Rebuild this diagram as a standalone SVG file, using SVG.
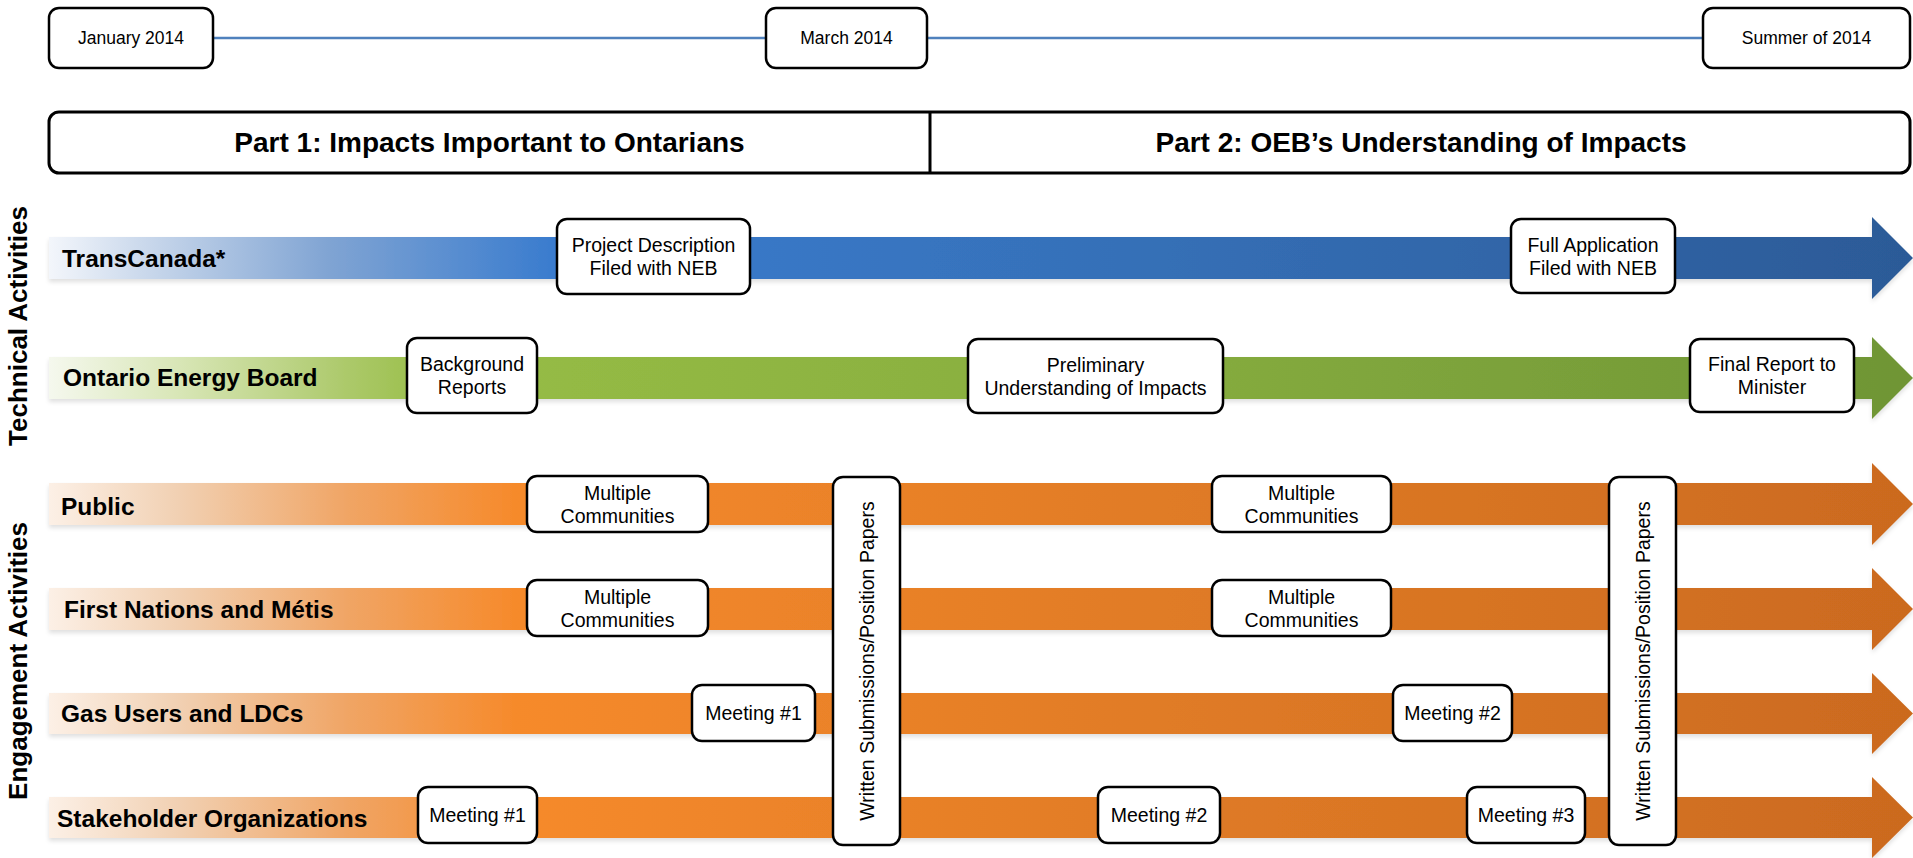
<svg xmlns="http://www.w3.org/2000/svg" width="1913" height="858" viewBox="0 0 1913 858">
<style>
text{font-family:"Liberation Sans",Arial,sans-serif;fill:#000}
.box{fill:#fff;stroke:#000;stroke-width:2.5}
.bt{font-size:19.5px;text-anchor:middle}
.lane{font-size:24.5px;font-weight:bold}
.grp{font-size:26px;font-weight:bold;text-anchor:middle}
.hdr{font-size:28px;font-weight:bold;text-anchor:middle}
.date{font-size:17.5px;text-anchor:middle}
.tl{stroke:#4f81bd;stroke-width:2.6;fill:none}
</style>
<defs>
<linearGradient id="gBlue" gradientUnits="userSpaceOnUse" x1="49" y1="0" x2="1913" y2="0">
<stop offset="0" stop-color="#f3f6fb"/>
<stop offset="0.05" stop-color="#cbd9ec"/>
<stop offset="0.15" stop-color="#80a4d3"/>
<stop offset="0.27" stop-color="#3a7cce"/>
<stop offset="0.6" stop-color="#356fb6"/>
<stop offset="1" stop-color="#2c5a97"/>
</linearGradient>
<linearGradient id="gGreen" gradientUnits="userSpaceOnUse" x1="49" y1="0" x2="1913" y2="0">
<stop offset="0" stop-color="#f5f8ee"/>
<stop offset="0.07" stop-color="#d8e6b6"/>
<stop offset="0.16" stop-color="#acc96a"/>
<stop offset="0.21" stop-color="#97bd45"/>
<stop offset="0.6" stop-color="#86ac3f"/>
<stop offset="1" stop-color="#6f9535"/>
</linearGradient>
<linearGradient id="gOrange" gradientUnits="userSpaceOnUse" x1="49" y1="0" x2="1913" y2="0">
<stop offset="0" stop-color="#fcf0e6"/>
<stop offset="0.07" stop-color="#f1d0b2"/>
<stop offset="0.16" stop-color="#f0a565"/>
<stop offset="0.25" stop-color="#f68a2b"/>
<stop offset="0.6" stop-color="#e07b26"/>
<stop offset="1" stop-color="#cb6a1f"/>
</linearGradient>
<filter id="shadow" x="-2%" y="-20%" width="104%" height="150%">
<feDropShadow dx="0" dy="3" stdDeviation="2" flood-color="#000" flood-opacity="0.12"/>
</filter>
</defs>

<!-- timeline -->
<g id="timeline-line">
<line class="tl" x1="213" y1="38" x2="766" y2="38"/>
<line class="tl" x1="927" y1="38" x2="1703" y2="38"/>
</g>
<g id="date-jan"><rect class="box" x="49" y="8" width="164" height="60" rx="10"/><text class="date" x="131" y="44">January 2014</text></g>
<g id="date-mar"><rect class="box" x="766" y="8" width="161" height="60" rx="10"/><text class="date" x="846.5" y="44">March 2014</text></g>
<g id="date-summer"><rect class="box" x="1703" y="8" width="207" height="60" rx="10"/><text class="date" x="1806.5" y="44">Summer of 2014</text></g>

<!-- header -->
<g id="header">
<rect x="49" y="112" width="1861" height="61" rx="10" fill="#fff" stroke="#000" stroke-width="3"/>
<line x1="930" y1="112" x2="930" y2="173" stroke="#000" stroke-width="3"/>
<text class="hdr" x="489.5" y="152">Part 1: Impacts Important to Ontarians</text>
<text class="hdr" x="1421" y="152">Part 2: OEB’s Understanding of Impacts</text>
</g>

<!-- group labels -->
<g id="label-technical"><text class="grp" transform="translate(27 326) rotate(-90)">Technical Activities</text></g>
<g id="label-engagement"><text class="grp" transform="translate(27 661) rotate(-90)">Engagement Activities</text></g>

<!-- lanes (arrows) -->
<g id="connectors" filter="url(#shadow)">
<path id="arrow-transcanada" d="M49 237 H1872 V217 L1913 258 L1872 299 V279 H49 Z" fill="url(#gBlue)"/>
<path id="arrow-oeb" d="M49 357 H1872 V337 L1913 378 L1872 419 V399 H49 Z" fill="url(#gGreen)"/>
<path id="arrow-public" d="M49 483 H1872 V463 L1913 504 L1872 545 V525 H49 Z" fill="url(#gOrange)"/>
<path id="arrow-firstnations" d="M49 588 H1872 V568 L1913 609 L1872 650 V630 H49 Z" fill="url(#gOrange)"/>
<path id="arrow-gas" d="M49 693 H1872 V673 L1913 713.5 L1872 754 V734 H49 Z" fill="url(#gOrange)"/>
<path id="arrow-stakeholder" d="M49 797 H1872 V777 L1913 817.5 L1872 858 V838 H49 Z" fill="url(#gOrange)"/>
</g>

<g id="lane-labels">
<text class="lane" x="62" y="267">TransCanada*</text>
<text class="lane" x="63" y="386">Ontario Energy Board</text>
<text class="lane" x="61" y="515">Public</text>
<text class="lane" x="64" y="618">First Nations and Métis</text>
<text class="lane" x="61" y="722">Gas Users and LDCs</text>
<text class="lane" x="57" y="827">Stakeholder Organizations</text>
</g>

<!-- milestone nodes -->
<g id="node-project-description"><rect class="box" x="557" y="219" width="193" height="75" rx="10"/><text class="bt" x="653.5" y="252">Project Description</text><text class="bt" x="653.5" y="275">Filed with NEB</text></g>
<g id="node-full-application"><rect class="box" x="1511" y="219" width="164" height="74" rx="10"/><text class="bt" x="1593" y="251.5">Full Application</text><text class="bt" x="1593" y="274.5">Filed with NEB</text></g>
<g id="node-background"><rect class="box" x="407" y="338" width="130" height="75" rx="10"/><text class="bt" x="472" y="371">Background</text><text class="bt" x="472" y="394">Reports</text></g>
<g id="node-preliminary"><rect class="box" x="968" y="339" width="255" height="74" rx="10"/><text class="bt" x="1095.5" y="371.5">Preliminary</text><text class="bt" x="1095.5" y="394.5">Understanding of Impacts</text></g>
<g id="node-final-report"><rect class="box" x="1690" y="339" width="164" height="73" rx="10"/><text class="bt" x="1772" y="371">Final Report to</text><text class="bt" x="1772" y="394">Minister</text></g>

<g id="node-public-mc1"><rect class="box" x="527" y="476" width="181" height="56" rx="10"/><text class="bt" x="617.5" y="499.5">Multiple</text><text class="bt" x="617.5" y="522.5">Communities</text></g>
<g id="node-public-mc2"><rect class="box" x="1212" y="476" width="179" height="56" rx="10"/><text class="bt" x="1301.5" y="499.5">Multiple</text><text class="bt" x="1301.5" y="522.5">Communities</text></g>
<g id="node-fn-mc1"><rect class="box" x="527" y="580" width="181" height="56" rx="10"/><text class="bt" x="617.5" y="603.5">Multiple</text><text class="bt" x="617.5" y="626.5">Communities</text></g>
<g id="node-fn-mc2"><rect class="box" x="1212" y="580" width="179" height="56" rx="10"/><text class="bt" x="1301.5" y="603.5">Multiple</text><text class="bt" x="1301.5" y="626.5">Communities</text></g>

<g id="node-gas-m1"><rect class="box" x="692" y="685" width="123" height="56" rx="10"/><text class="bt" x="753.5" y="720">Meeting #1</text></g>
<g id="node-gas-m2"><rect class="box" x="1393" y="685" width="119" height="56" rx="10"/><text class="bt" x="1452.5" y="720">Meeting #2</text></g>
<g id="node-sh-m1"><rect class="box" x="418" y="787" width="119" height="56" rx="10"/><text class="bt" x="477.5" y="822">Meeting #1</text></g>
<g id="node-sh-m2"><rect class="box" x="1098" y="787" width="122" height="56" rx="10"/><text class="bt" x="1159" y="822">Meeting #2</text></g>
<g id="node-sh-m3"><rect class="box" x="1467" y="787" width="118" height="56" rx="10"/><text class="bt" x="1526" y="822">Meeting #3</text></g>

<g id="node-written-1"><rect class="box" x="833" y="477" width="67" height="368" rx="10"/><text class="bt" transform="translate(873.5 661) rotate(-90)">Written Submissions/Position Papers</text></g>
<g id="node-written-2"><rect class="box" x="1609" y="477" width="67" height="368" rx="10"/><text class="bt" transform="translate(1649.5 661) rotate(-90)">Written Submissions/Position Papers</text></g>
</svg>
